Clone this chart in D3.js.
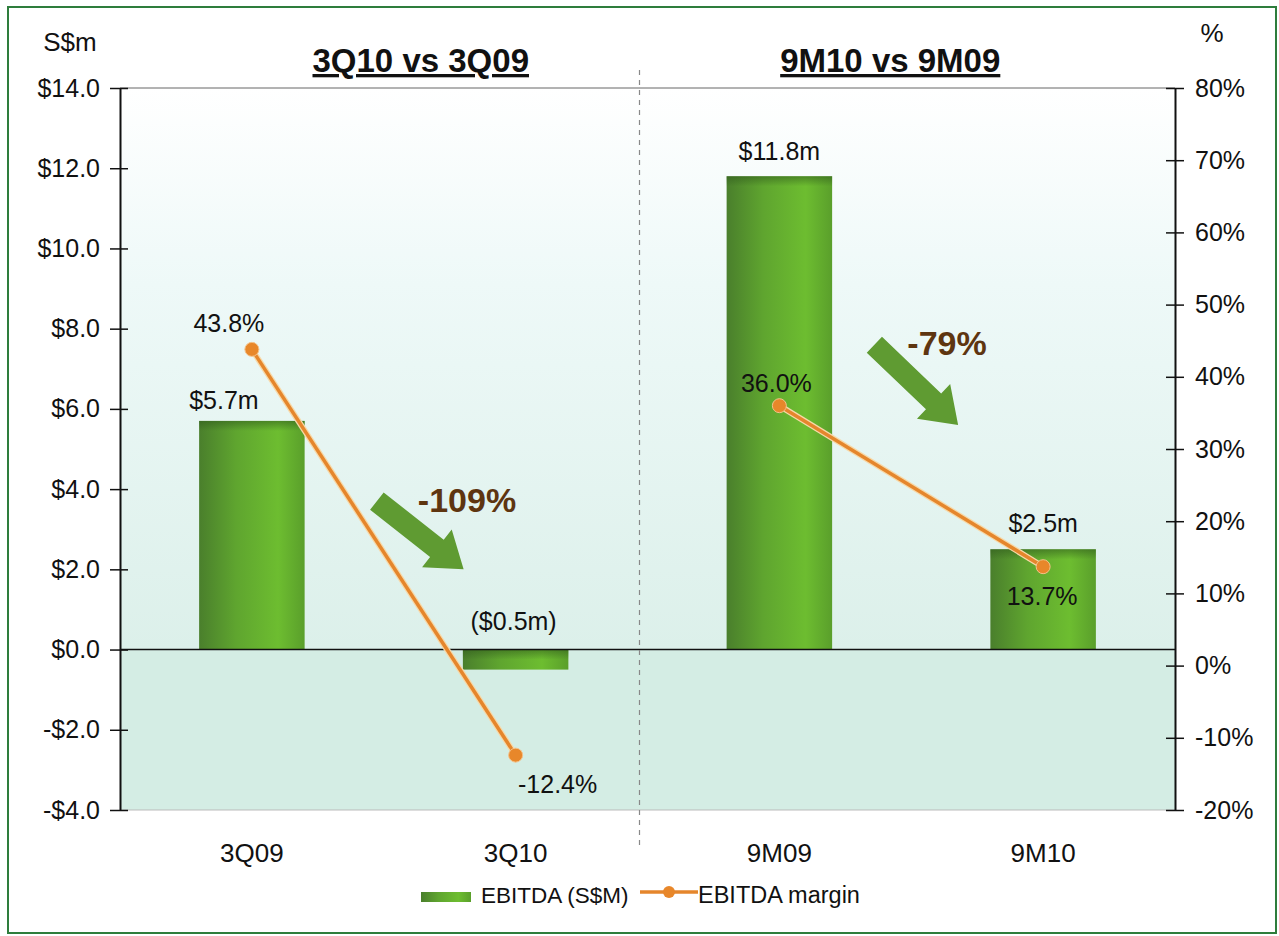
<!DOCTYPE html>
<html>
<head>
<meta charset="utf-8">
<script src="https://cdn.jsdelivr.net/npm/d3@7/dist/d3.min.js"></script>
<style>
  html, body { margin: 0; padding: 0; background: #fff; }
  svg { display: block; font-family: "Liberation Sans", Arial, sans-serif; }
</style>
</head>
<body>
<script>
// EBITDA (S$m) and EBITDA margin (%) by period
const categories = ["3Q09", "3Q10", "9M09", "9M10"];
const ebitda = [5.7, -0.5, 11.8, 2.5];
const ebitdaLabels = ["$5.7m", "($0.5m)", "$11.8m", "$2.5m"];
const margin = [43.8, -12.4, 36.0, 13.7];
const marginLabels = ["43.8%", "-12.4%", "36.0%", "13.7%"];
const leftTicks = [-4, -2, 0, 2, 4, 6, 8, 10, 12, 14];
const rightTicks = [-20, -10, 0, 10, 20, 30, 40, 50, 60, 70, 80];
const groupTitles = ["3Q10 vs 3Q09", "9M10 vs 9M09"];
const changeLabels = ["-109%", "-79%"];

const W = 1279, H = 936;
const plot = { left: 120, right: 1175, top: 88, bottom: 810 };
const FONT = "Liberation Sans, Arial, sans-serif";

const svg = d3.select("body").append("svg").attr("width", W).attr("height", H);
const defs = svg.append("defs");

// plot background: pale top fading into mint near zero
const bgGrad = defs.append("linearGradient").attr("id", "bgGrad").attr("x1", 0).attr("y1", 0).attr("x2", 0).attr("y2", 1);
bgGrad.append("stop").attr("offset", "0%").attr("stop-color", "#ffffff");
bgGrad.append("stop").attr("offset", "35%").attr("stop-color", "#eef9f8");
bgGrad.append("stop").attr("offset", "100%").attr("stop-color", "#dcf0ea");

// bar fill: shaded cylinder look
const barGrad = defs.append("linearGradient").attr("id", "barGrad").attr("x1", 0).attr("y1", 0).attr("x2", 1).attr("y2", 0);
barGrad.append("stop").attr("offset", "0%").attr("stop-color", "#4a7f2c");
barGrad.append("stop").attr("offset", "35%").attr("stop-color", "#5fa52f");
barGrad.append("stop").attr("offset", "75%").attr("stop-color", "#6dbd30");
barGrad.append("stop").attr("offset", "100%").attr("stop-color", "#5a9f2b");
const barTop = defs.append("linearGradient").attr("id", "barTop").attr("x1", 0).attr("y1", 0).attr("x2", 0).attr("y2", 1);
barTop.append("stop").attr("offset", "0%").attr("stop-color", "#2f5a1c").attr("stop-opacity", 0.55);
barTop.append("stop").attr("offset", "100%").attr("stop-color", "#2f5a1c").attr("stop-opacity", 0);

// outer frame
svg.append("rect").attr("x", 8).attr("y", 7).attr("width", 1268).attr("height", 926)
  .attr("fill", "#fff").attr("stroke", "#2e7d3c").attr("stroke-width", 2);

const x = d3.scaleBand().domain(categories).range([plot.left, plot.right]).paddingInner(0.6).paddingOuter(0.3);
const yL = d3.scaleLinear().domain([-4, 14]).range([plot.bottom, plot.top]);
const yR = d3.scaleLinear().domain([-20, 80]).range([plot.bottom, plot.top]);
const cx = c => x(c) + x.bandwidth() / 2;

// backgrounds above and below zero
svg.append("rect").attr("x", plot.left).attr("y", plot.top)
  .attr("width", plot.right - plot.left).attr("height", yL(0) - plot.top).attr("fill", "url(#bgGrad)");
svg.append("rect").attr("x", plot.left).attr("y", yL(0))
  .attr("width", plot.right - plot.left).attr("height", plot.bottom - yL(0)).attr("fill", "#d4ede4");

// plot top and bottom edges
svg.append("line").attr("x1", plot.left).attr("x2", plot.right).attr("y1", plot.top).attr("y2", plot.top)
  .attr("stroke", "#666").attr("stroke-width", 1);
svg.append("line").attr("x1", plot.left).attr("x2", plot.right).attr("y1", plot.bottom).attr("y2", plot.bottom)
  .attr("stroke", "#bbb").attr("stroke-width", 1);

// bars
const bars = svg.append("g");
categories.forEach((c, i) => {
  const y0 = yL(Math.max(0, ebitda[i])), y1 = yL(Math.min(0, ebitda[i]));
  bars.append("rect").attr("x", x(c)).attr("y", y0).attr("width", x.bandwidth()).attr("height", y1 - y0)
    .attr("fill", "url(#barGrad)");
  bars.append("rect").attr("x", x(c)).attr("y", y0).attr("width", x.bandwidth()).attr("height", Math.min(10, y1 - y0))
    .attr("fill", "url(#barTop)");
});

// zero line
svg.append("line").attr("x1", plot.left).attr("x2", plot.right).attr("y1", yL(0)).attr("y2", yL(0))
  .attr("stroke", "#111").attr("stroke-width", 1.6);

// dashed separator between the two comparisons
const sepX = (cx(categories[1]) + cx(categories[2])) / 2 - 8;
svg.append("line").attr("x1", sepX).attr("x2", sepX).attr("y1", 70).attr("y2", 850)
  .attr("stroke", "#888").attr("stroke-width", 1.2).attr("stroke-dasharray", "5,5");

// axes
const axL = d3.axisLeft(yL).tickValues(leftTicks).tickSize(0).tickPadding(20)
  .tickFormat(d => (d < 0 ? "-$" : "$") + Math.abs(d).toFixed(1));
const gL = svg.append("g").attr("transform", `translate(${plot.left},0)`).call(axL);
gL.select(".domain").attr("stroke", "#111").attr("stroke-width", 2);
gL.selectAll(".tick line").remove();
gL.selectAll(".tick").append("line").attr("x1", -10).attr("x2", 8).attr("stroke", "#111").attr("stroke-width", 1.5);
gL.selectAll(".tick text").attr("font-size", 25).attr("fill", "#111").attr("font-family", FONT);

const axR = d3.axisRight(yR).tickValues(rightTicks).tickSize(0).tickPadding(20).tickFormat(d => d + "%");
const gR = svg.append("g").attr("transform", `translate(${plot.right},0)`).call(axR);
gR.select(".domain").attr("stroke", "#111").attr("stroke-width", 2);
gR.selectAll(".tick line").remove();
gR.selectAll(".tick").append("line").attr("x1", -9).attr("x2", 9).attr("stroke", "#111").attr("stroke-width", 1.5);
gR.selectAll(".tick text").attr("font-size", 25).attr("fill", "#111").attr("font-family", FONT);

// category labels
svg.append("g").selectAll("text").data(categories).join("text")
  .attr("x", d => cx(d)).attr("y", 862).attr("text-anchor", "middle")
  .attr("font-size", 26).attr("fill", "#111").text(d => d);

// axis unit titles
svg.append("text").attr("x", 70).attr("y", 51).attr("text-anchor", "middle").attr("font-size", 26).attr("fill", "#111").text("S$m");
svg.append("text").attr("x", 1212).attr("y", 42).attr("text-anchor", "middle").attr("font-size", 26).attr("fill", "#111").text("%");

// group titles
const titleShift = [37, -21];
groupTitles.forEach((t, i) => {
  const mx = (cx(categories[2 * i]) + cx(categories[2 * i + 1])) / 2 + titleShift[i];
  svg.append("text").attr("x", mx).attr("y", 72).attr("text-anchor", "middle")
    .attr("font-size", 33).attr("font-weight", "bold").attr("fill", "#111")
    .attr("text-decoration", "underline").text(t);
});

// change arrows
function arrow(x1, y1, x2, y2) {
  const ang = Math.atan2(y2 - y1, x2 - x1);
  const len = Math.hypot(x2 - x1, y2 - y1);
  const sw = 11, hw = 24, hl = 34;
  const pts = [[0, -sw], [len - hl, -sw], [len - hl, -hw], [len, 0], [len - hl, hw], [len - hl, sw], [0, sw]];
  svg.append("polygon")
    .attr("points", pts.map(p => p.join(",")).join(" "))
    .attr("transform", `translate(${x1},${y1}) rotate(${ang * 180 / Math.PI})`)
    .attr("fill", "#5f9b32");
}
arrow(cx(categories[0]) + 125, yL(3.7), cx(categories[1]) - 52, yL(2.0));
arrow(cx(categories[2]) + 95, yL(7.6), cx(categories[3]) - 85, yL(5.6));

svg.append("text").attr("x", 467).attr("y", 512).attr("text-anchor", "middle").attr("font-size", 34)
  .attr("font-weight", "bold").attr("fill", "#5e3510").text(changeLabels[0]);
svg.append("text").attr("x", 947).attr("y", 355).attr("text-anchor", "middle").attr("font-size", 34)
  .attr("font-weight", "bold").attr("fill", "#5e3510").text(changeLabels[1]);

// margin line, drawn per comparison
[[0, 1], [2, 3]].forEach(idx => {
  const path = d3.line().x(i => cx(categories[i])).y(i => yR(margin[i]))(idx);
  svg.append("path").attr("d", path).attr("fill", "none").attr("stroke", "#f7d9a8").attr("stroke-width", 6);
  svg.append("path").attr("d", path).attr("fill", "none").attr("stroke", "#e5862c").attr("stroke-width", 3.5);
});
svg.append("g").selectAll("circle").data(margin).join("circle")
  .attr("cx", (d, i) => cx(categories[i])).attr("cy", d => yR(d)).attr("r", 7)
  .attr("fill", "#e8872a").attr("stroke", "#f4c28a").attr("stroke-width", 1);

// bar value labels
const barLabelPos = [[-28, -12], [-2, -20], [0, -16], [0, -17]];
ebitda.forEach((v, i) => {
  const yTop = yL(Math.max(0, v));
  svg.append("text").attr("x", cx(categories[i]) + barLabelPos[i][0]).attr("y", yTop + barLabelPos[i][1])
    .attr("text-anchor", "middle").attr("font-size", 25).attr("fill", "#111").text(ebitdaLabels[i]);
});

// margin value labels
const marginLabelPos = [[-23, -17], [42, 38], [-3, -14], [-1, 38]];
margin.forEach((v, i) => {
  svg.append("text").attr("x", cx(categories[i]) + marginLabelPos[i][0]).attr("y", yR(v) + marginLabelPos[i][1])
    .attr("text-anchor", "middle").attr("font-size", 25).attr("fill", "#111").text(marginLabels[i]);
});

// legend
const lg = svg.append("g").attr("transform", "translate(0,892)");
lg.append("rect").attr("x", 421).attr("y", 0).attr("width", 50).attr("height", 10).attr("fill", "url(#barGrad)");
lg.append("text").attr("x", 481).attr("y", 11).attr("font-size", 22.5).attr("fill", "#111").text("EBITDA (S$M)");
lg.append("line").attr("x1", 640).attr("x2", 698).attr("y1", 0).attr("y2", 0).attr("stroke", "#e5862c").attr("stroke-width", 3.5);
lg.append("circle").attr("cx", 669).attr("cy", 0).attr("r", 6).attr("fill", "#e8872a");
lg.append("text").attr("x", 698).attr("y", 11).attr("font-size", 23.5).attr("fill", "#111").text("EBITDA margin");
</script>
</body>
</html>
